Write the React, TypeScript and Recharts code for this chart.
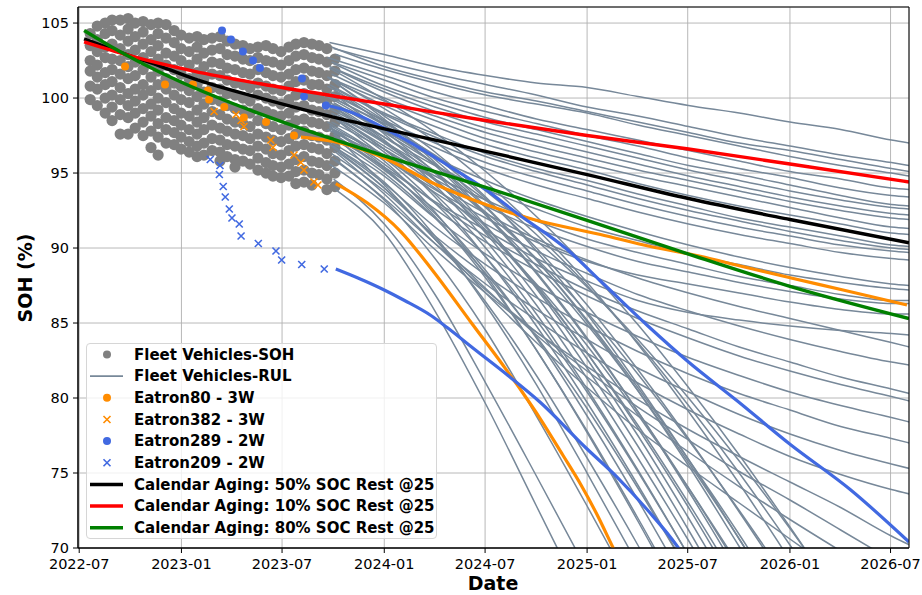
import React from "react";
import {
  ComposedChart,
  Line,
  Scatter,
  XAxis,
  YAxis,
  CartesianGrid,
  Legend,
  ReferenceArea,
} from "recharts";

// SOH of the fleet vs date, with per-vehicle RUL projections and three
// calendar-aging reference curves. x is a decimal year, y is SOH in %.

const X_MIN = 2022.49;
const X_MAX = 2026.587;
const Y_MIN = 70;
const Y_MAX = 106.07;

const X_TICKS = [2022.496, 2023.0, 2023.496, 2024.0, 2024.497, 2025.0, 2025.496, 2026.0, 2026.496];
const X_TICK_LABELS = ["2022-07", "2023-01", "2023-07", "2024-01", "2024-07", "2025-01", "2025-07", "2026-01", "2026-07"];
const Y_TICKS = [70, 75, 80, 85, 90, 95, 100, 105];

// Fleet SOH scatter, read column by column
const FLEET_SOH_X = [
  2022.55, 2022.585, 2022.624, 2022.658, 2022.698, 2022.737, 2022.772, 2022.811, 2022.85, 2022.885,
  2022.924, 2022.964, 2022.998, 2023.038, 2023.077, 2023.111, 2023.151, 2023.19, 2023.225, 2023.264,
  2023.303, 2023.338, 2023.377, 2023.417, 2023.451, 2023.491, 2023.53, 2023.564, 2023.604, 2023.643,
  2023.678, 2023.717, 2023.757,
];
const FLEET_SOH_Y = [
  [104.3, 103.5, 102.5, 101.8, 100.8, 99.9],
  [104.8, 103.9, 103.1, 102.2, 101.4, 100.6, 99.5],
  [105.0, 104.3, 103.4, 102.7, 101.7, 100.9, 100.0, 99.0],
  [105.2, 104.5, 103.6, 102.6, 101.9, 101.1, 100.2, 99.4, 98.5],
  [105.2, 104.2, 103.3, 102.5, 101.6, 100.7, 99.9, 98.9, 97.6],
  [105.3, 104.6, 103.8, 102.9, 102.1, 101.3, 100.3, 99.5, 98.7, 97.6],
  [105.0, 104.1, 103.2, 102.4, 101.5, 100.6, 99.8, 99.0, 98.0],
  [105.1, 104.4, 103.6, 102.7, 101.9, 100.9, 100.2, 99.3, 98.4, 97.5],
  [104.9, 103.9, 103.1, 102.3, 101.4, 100.5, 99.6, 98.8, 97.8, 96.7],
  [105.0, 104.3, 103.5, 102.6, 101.8, 100.9, 100.0, 99.2, 98.3, 97.4, 96.2],
  [104.9, 104.0, 103.0, 102.2, 101.3, 100.6, 99.7, 98.7, 97.9, 97.0],
  [104.5, 103.7, 102.8, 101.9, 101.0, 100.2, 99.3, 98.5, 97.7, 96.9],
  [104.2, 103.3, 102.5, 101.6, 100.8, 99.9, 99.0, 98.2, 97.4, 96.6],
  [104.0, 103.1, 102.2, 101.3, 100.5, 99.7, 98.8, 97.9, 97.1, 96.4],
  [104.1, 103.4, 102.6, 101.7, 100.9, 100.1, 99.2, 98.4, 97.6, 96.8, 96.1],
  [103.9, 103.0, 102.1, 101.3, 100.4, 99.6, 98.7, 97.9, 97.0, 96.2],
  [104.0, 103.2, 102.4, 101.6, 100.7, 99.9, 99.1, 98.2, 97.3, 96.5],
  [104.1, 103.3, 102.3, 101.5, 100.6, 99.8, 98.9, 98.0, 97.2, 96.4, 95.8],
  [103.8, 102.9, 102.0, 101.2, 100.3, 99.5, 98.6, 97.8, 96.9, 96.1],
  [103.6, 102.8, 101.9, 101.0, 100.2, 99.3, 98.4, 97.6, 96.8, 95.9, 95.4],
  [103.5, 102.6, 101.7, 100.9, 100.0, 99.2, 98.3, 97.5, 96.6, 95.8],
  [103.3, 102.5, 101.6, 100.7, 99.8, 99.0, 98.1, 97.3, 96.5, 95.6],
  [103.4, 102.7, 101.9, 101.0, 100.2, 99.3, 98.5, 97.6, 96.8, 96.0, 95.2],
  [103.5, 102.5, 101.7, 100.8, 100.0, 99.1, 98.3, 97.4, 96.6, 95.7, 95.0],
  [103.3, 102.4, 101.5, 100.6, 99.8, 98.9, 98.1, 97.2, 96.3, 95.5, 94.8],
  [103.1, 102.2, 101.4, 100.5, 99.6, 98.8, 97.9, 97.1, 96.2, 95.4, 94.7],
  [103.4, 102.5, 101.6, 100.8, 99.9, 99.0, 98.2, 97.3, 96.5, 95.6, 94.8],
  [103.6, 102.8, 101.9, 101.1, 100.2, 99.4, 98.5, 97.6, 96.8, 95.9, 95.1, 94.3],
  [103.7, 102.9, 102.0, 101.2, 100.3, 99.5, 98.6, 97.8, 96.9, 96.1, 95.2, 94.4],
  [103.6, 102.7, 101.8, 100.9, 100.1, 99.2, 98.4, 97.5, 96.7, 95.8, 95.0, 94.2],
  [103.5, 102.6, 101.7, 100.9, 100.0, 99.1, 98.3, 97.4, 96.6, 95.7, 94.9],
  [103.3, 102.4, 101.5, 100.6, 99.8, 98.9, 98.1, 97.2, 96.3, 95.5, 94.6, 93.9],
  [102.6, 101.8, 100.9, 100.1, 99.2, 98.4, 97.5, 96.7, 95.8, 95.0, 94.1],
];

// Fleet RUL projections: start point, then SOH at the common grid dates
const RUL_GRID_X = [2024.0, 2024.25, 2024.5, 2024.75, 2025.0, 2025.25, 2025.5, 2025.75, 2026.0, 2026.25, 2026.5, 2026.59];
const RUL_START_X = [
  2023.73, 2023.75, 2023.74, 2023.76, 2023.72, 2023.74, 2023.75, 2023.73, 2023.76, 2023.74, 2023.72,
  2023.75, 2023.73, 2023.76, 2023.74, 2023.72, 2023.75, 2023.73, 2023.76, 2023.74, 2023.72, 2023.75,
  2023.74, 2023.76, 2023.73, 2023.75, 2023.72, 2023.75, 2023.74, 2023.76, 2023.73, 2023.75, 2023.72, 2023.76,
  2023.76, 2023.75, 2023.74, 2023.72, 2023.77, 2023.73, 2023.75, 2023.71, 2023.76, 2023.74, 2023.72,
  2023.77, 2023.75, 2023.73, 2023.76, 2023.71, 2023.74, 2023.77, 2023.72, 2023.75, 2023.73, 2023.76,
  2023.74, 2023.72, 2023.76, 2023.75, 2023.73, 2023.77, 2023.74, 2023.72,
];
const RUL_START_Y = [
  103.7, 103.3, 103.4, 102.9, 102.7, 102.4, 102.3, 102.1, 101.9, 101.6, 101.4,
  101.2, 100.9, 100.6, 100.3, 100.2, 99.7, 99.3, 98.8, 98.4, 97.9, 97.4,
  99.0, 98.6, 98.1, 97.6, 97.2, 96.8, 96.3, 95.9, 95.6, 96.5, 97.0, 97.5,
  93.9, 94.6, 96.0, 97.0, 96.4, 98.2, 97.6, 99.0, 98.6, 99.5, 100.1,
  99.2, 100.6, 98.0, 101.0, 99.8, 100.4, 98.9, 101.4, 100.0, 102.0, 99.6,
  99.0, 98.4, 100.2, 97.3, 101.3, 99.4, 97.9, 100.8,
];
const RUL_Y = [
  // slow
  [102.9, 102.1, 101.5, 101.0, 100.7, 100.1, 99.5, 99.0, 98.4, 97.9, 97.2, 97.0],
  [102.4, 101.6, 100.9, 100.2, 99.4, 98.8, 98.1, 97.4, 96.8, 96.2, 95.7, 95.5],
  [102.1, 101.2, 100.4, 99.8, 99.1, 98.4, 97.7, 97.0, 96.5, 95.9, 95.3, 95.1],
  [101.9, 101.0, 100.2, 99.6, 99.0, 98.2, 97.5, 96.8, 96.1, 95.5, 95.0, 94.8],
  [101.5, 100.4, 99.5, 98.6, 97.9, 97.2, 96.5, 95.8, 95.1, 94.6, 94.0, 93.9],
  [101.2, 100.0, 99.1, 98.3, 97.5, 96.8, 96.0, 95.3, 94.7, 94.0, 93.5, 93.4],
  [100.8, 99.7, 98.7, 97.9, 97.1, 96.3, 95.5, 94.9, 94.2, 93.5, 92.9, 92.8],
  [100.6, 99.4, 98.4, 97.6, 96.8, 96.0, 95.2, 94.5, 93.8, 93.2, 92.7, 92.6],
  [100.4, 99.1, 98.0, 97.2, 96.4, 95.6, 94.8, 94.1, 93.4, 92.8, 92.3, 92.2],
  [100.0, 98.8, 97.7, 96.8, 96.0, 95.2, 94.5, 93.8, 93.1, 92.5, 92.0, 91.9],
  [99.8, 98.5, 97.3, 96.4, 95.6, 94.8, 94.1, 93.4, 92.7, 92.0, 91.4, 91.3],
  [99.5, 98.1, 96.9, 96.0, 95.2, 94.3, 93.5, 92.8, 92.2, 91.6, 91.0, 90.9],
  [99.0, 97.6, 96.3, 95.3, 94.5, 93.6, 92.8, 92.0, 91.4, 90.8, 90.2, 90.1],
  [98.9, 97.4, 96.1, 95.1, 94.2, 93.3, 92.5, 91.8, 91.1, 90.5, 90.0, 89.9],
  [98.5, 97.0, 95.7, 94.7, 93.8, 92.9, 92.1, 91.4, 90.8, 90.2, 89.8, 89.7],
  [98.3, 96.7, 95.3, 94.2, 93.3, 92.4, 91.6, 90.9, 90.3, 89.7, 89.3, 89.2],
  [97.8, 96.0, 94.5, 93.2, 92.1, 91.1, 90.2, 89.4, 88.7, 88.1, 87.6, 87.5],
  [97.4, 95.5, 93.9, 92.6, 91.4, 90.5, 89.6, 88.9, 88.2, 87.7, 87.3, 87.2],
  [96.8, 94.8, 93.2, 91.8, 90.6, 89.7, 88.9, 88.1, 87.5, 86.9, 86.5, 86.5],
  [96.6, 94.6, 92.8, 91.3, 90.1, 89.1, 88.4, 87.7, 87.1, 86.6, 86.3, 86.3],
  [96.0, 93.9, 92.0, 90.4, 89.1, 88.2, 87.6, 87.0, 86.4, 85.9, 85.6, 85.6],
  [95.4, 93.1, 91.2, 89.3, 87.8, 86.5, 85.7, 85.2, 84.8, 84.5, 84.3, 84.2],
  // middle
  [96.6, 94.3, 92.3, 90.6, 89.2, 88.0, 87.0, 86.1, 85.3, 84.5, 83.7, 83.4],
  [96.1, 93.7, 91.6, 89.8, 88.3, 86.9, 85.8, 84.8, 83.9, 83.1, 82.4, 82.2],
  [95.6, 93.0, 90.8, 88.9, 87.2, 85.8, 84.6, 83.4, 82.4, 81.4, 80.6, 80.3],
  [95.2, 92.6, 90.4, 88.5, 86.8, 85.3, 84.0, 82.8, 81.8, 80.9, 80.1, 79.8],
  [94.8, 92.0, 89.6, 87.5, 85.7, 84.1, 82.7, 81.5, 80.4, 79.5, 78.7, 78.4],
  [94.3, 91.4, 88.9, 86.7, 84.8, 83.1, 81.6, 80.3, 79.2, 78.1, 77.3, 77.0],
  [93.8, 90.8, 88.2, 85.9, 83.9, 82.0, 80.4, 78.9, 77.6, 76.5, 75.6, 75.3],
  [93.3, 90.3, 87.6, 85.2, 83.0, 81.0, 79.2, 77.6, 76.1, 74.9, 73.9, 73.6],
  [93.0, 89.9, 87.0, 84.4, 82.1, 79.9, 77.9, 76.1, 74.4, 72.7, 70.8, 70.2],
  [93.6, 90.3, 87.2, 84.4, 81.8, 79.4, 77.2, 75.1, 73.2, 71.2, 69.2],
  [94.0, 90.6, 87.3, 84.2, 81.4, 78.8, 76.4, 74.1, 71.9, 69.8],
  [94.2, 90.6, 87.0, 83.7, 80.7, 77.9, 75.4, 73.0, 70.6, 68.2],
  // fast
  [91.0, 85.8, 79.6, 72.8, 66.0],
  [91.6, 86.9, 81.0, 74.8, 68.5],
  [93.2, 89.3, 84.5, 78.8, 72.8, 66.6],
  [94.4, 90.8, 86.2, 80.9, 75.0, 68.9],
  [94.0, 90.6, 86.4, 81.5, 76.0, 70.2, 64.0],
  [95.8, 92.4, 88.2, 83.2, 77.8, 72.0, 65.9],
  [95.3, 92.3, 88.5, 84.0, 78.8, 73.2, 67.3],
  [96.6, 93.4, 89.4, 84.8, 79.7, 74.2, 68.4],
  [96.4, 93.6, 90.0, 85.6, 80.6, 75.2, 69.5],
  [97.2, 94.2, 90.5, 86.2, 81.3, 76.0, 70.5, 64.8],
  [97.8, 95.0, 91.5, 87.3, 82.6, 77.5, 72.0, 66.3],
  [97.1, 94.6, 91.4, 87.5, 83.0, 78.0, 72.7, 67.0],
  [98.2, 95.5, 92.2, 88.3, 83.9, 79.1, 74.0, 68.6],
  [96.2, 94.0, 91.1, 87.6, 83.5, 78.9, 74.0, 68.8],
  [98.8, 96.4, 93.4, 89.8, 85.6, 80.9, 75.9, 70.6, 65.0],
  [97.9, 95.6, 92.7, 89.2, 85.2, 80.7, 75.9, 70.9, 65.6],
  [98.4, 96.1, 93.3, 90.0, 86.2, 81.9, 77.3, 72.4, 67.3],
  [97.1, 95.0, 92.4, 89.3, 85.7, 81.6, 77.2, 72.5, 67.6],
  [99.3, 97.1, 94.4, 91.3, 87.7, 83.6, 79.1, 74.3, 69.2],
  [98.2, 96.2, 93.8, 90.9, 87.5, 83.7, 79.5, 75.0, 70.2, 65.1],
  [99.9, 97.7, 95.1, 92.1, 88.7, 84.9, 80.7, 76.2, 71.4, 66.4],
  [97.7, 95.6, 93.2, 90.5, 87.4, 83.9, 80.0, 75.8, 71.3, 66.6],
  [97.0, 94.5, 91.2, 87.4, 83.0, 78.2, 73.0, 67.5],
  [96.0, 93.0, 89.4, 85.2, 80.4, 75.1, 69.5],
  [97.6, 94.6, 91.0, 86.8, 82.0, 76.8, 71.2, 65.3],
  [95.0, 92.0, 88.3, 84.1, 79.3, 74.0, 68.4],
  [98.6, 95.7, 92.3, 88.4, 84.0, 79.1, 73.8, 68.2],
  [97.4, 95.1, 92.2, 88.8, 84.9, 80.5, 75.7, 70.6, 65.3],
  [95.4, 92.1, 88.0, 83.2, 77.7, 71.8, 65.6],
  [98.5, 95.9, 92.8, 89.2, 85.1, 80.5, 75.5, 70.1, 64.6],
];

// Named vehicles
const EATRON80_SOH = [
  [2022.722, 102.1], [2022.919, 100.9], [2023.057, 100.9], [2023.131, 100.5], [2023.136, 99.9],
  [2023.211, 99.4], [2023.308, 98.7], [2023.417, 98.4], [2023.555, 97.5],
];
const EATRON382_SOH = [
  [2023.161, 99.1], [2023.269, 98.9], [2023.294, 98.5], [2023.308, 98.1], [2023.441, 97.2],
  [2023.451, 96.7], [2023.555, 96.2], [2023.589, 95.7], [2023.604, 95.2], [2023.653, 94.4], [2023.673, 94.2],
];
const EATRON289_SOH = [
  [2023.2, 104.5], [2023.244, 103.9], [2023.303, 103.1], [2023.353, 102.5], [2023.387, 102.0],
  [2023.594, 101.3], [2023.604, 100.1], [2023.712, 99.5],
];
const EATRON209_SOH = [
  [2023.142, 95.9], [2023.19, 95.5], [2023.187, 94.9], [2023.206, 94.1], [2023.216, 93.4],
  [2023.236, 92.6], [2023.249, 92.0], [2023.285, 91.6], [2023.294, 90.8], [2023.379, 90.3],
  [2023.466, 89.8], [2023.494, 89.2], [2023.593, 88.9], [2023.704, 88.6],
];
const EATRON80_RUL = [
  [2023.589, 97.4], [2023.75, 97.1], [2024.0, 96.0], [2024.244, 94.3], [2024.5, 92.9], [2024.736, 91.9],
  [2025.066, 90.9], [2025.312, 90.1], [2025.558, 89.45], [2025.755, 88.8], [2026.006, 88.0],
  [2026.262, 87.2], [2026.577, 86.2],
];
const EATRON382_RUL = [
  [2023.761, 94.3], [2023.917, 93.0], [2024.081, 91.1], [2024.244, 88.4], [2024.43, 85.0],
  [2024.59, 82.1], [2024.68, 80.4], [2024.77, 78.6], [2024.88, 76.2], [2024.97, 74.2],
  [2025.05, 72.2], [2025.125, 70.1], [2025.15, 69.4],
];
const EATRON289_RUL = [
  [2023.712, 99.5], [2023.752, 99.4], [2024.081, 97.4], [2024.327, 95.4], [2024.5, 93.9],
  [2024.656, 92.3], [2024.902, 89.9], [2025.066, 87.8], [2025.3, 84.8], [2025.5, 82.4],
  [2025.741, 79.8], [2026.002, 76.9], [2026.297, 73.9], [2026.587, 70.4],
];
const EATRON209_RUL = [
  [2023.761, 88.6], [2023.87, 88.0], [2024.0, 87.2], [2024.1, 86.5], [2024.23, 85.5],
  [2024.31, 84.7], [2024.44, 83.3], [2024.61, 81.5], [2024.77, 79.7], [2025.0, 76.6],
  [2025.15, 74.7], [2025.3, 72.5], [2025.445, 70.1], [2025.47, 69.6],
];

// Calendar aging curves
const CAL_50 = [
  [2022.52, 103.95], [2022.74, 102.85], [2022.9, 102.1], [2023.06, 101.3], [2023.39, 100.0],
  [2023.79, 98.6], [2024.0, 97.95], [2024.5, 96.45], [2025.0, 94.9], [2025.5, 93.3],
  [2026.0, 91.9], [2026.587, 90.35],
];
const CAL_10 = [
  [2022.52, 103.75], [2022.74, 102.85], [2023.06, 101.8], [2023.39, 100.95], [2023.79, 100.05],
  [2024.0, 99.6], [2024.5, 98.5], [2025.0, 97.5], [2025.5, 96.6], [2026.0, 95.6], [2026.587, 94.4],
];
const CAL_80 = [
  [2022.52, 104.5], [2022.65, 103.45], [2022.8, 102.35], [2023.0, 101.05], [2023.25, 99.65],
  [2023.5, 98.4], [2023.75, 97.25], [2024.0, 96.15], [2024.5, 94.05], [2025.0, 91.85],
  [2025.5, 89.6], [2026.0, 87.45], [2026.587, 85.3],
];

const GRAY_DOT = "#808080";
const RUL_GRAY = "#778899";
const ORANGE = "#ff8c00";
const BLUE = "#4169e1";
const FONT = "DejaVu Sans";

const pairs = (rows: number[][]) => rows.map(([x, y]) => ({ x, y }));

const fleetSoh = FLEET_SOH_X.flatMap((x, i) => FLEET_SOH_Y[i].map((y) => ({ x, y })));
const fleetRul = RUL_Y.map((ys, i) => [
  { x: RUL_START_X[i], y: RUL_START_Y[i] },
  ...ys.map((y, j) => ({ x: RUL_GRID_X[j], y })),
]);

const dotShape = (color: string, r: number) => (p: any) => (
  <circle cx={p.cx} cy={p.cy} r={r} fill={color} />
);
const crossShape = (color: string) => (p: any) => (
  <path
    d={`M${p.cx - 3.5},${p.cy - 3.5}L${p.cx + 3.5},${p.cy + 3.5}M${p.cx - 3.5},${p.cy + 3.5}L${p.cx + 3.5},${p.cy - 3.5}`}
    stroke={color}
    strokeWidth={1.6}
    fill="none"
  />
);

const LEGEND_ITEMS = [
  { label: "Fleet Vehicles-SOH", kind: "dot", color: GRAY_DOT },
  { label: "Fleet Vehicles-RUL", kind: "thin", color: RUL_GRAY },
  { label: "Eatron80 - 3W", kind: "dot", color: ORANGE },
  { label: "Eatron382 - 3W", kind: "cross", color: ORANGE },
  { label: "Eatron289 - 2W", kind: "dot", color: BLUE },
  { label: "Eatron209 - 2W", kind: "cross", color: BLUE },
  { label: "Calendar Aging: 50% SOC Rest @25", kind: "thick", color: "#000000" },
  { label: "Calendar Aging: 10% SOC Rest @25", kind: "thick", color: "#ff0000" },
  { label: "Calendar Aging: 80% SOC Rest @25", kind: "thick", color: "#008000" },
];

function LegendBox() {
  return (
    <div
      style={{
        width: 351,
        height: 196,
        boxSizing: "border-box",
        border: "1px solid #d6d6d6",
        borderRadius: 4,
        background: "rgba(255,255,255,0.8)",
      }}
    >
      <svg width={349} height={194} style={{ display: "block" }}>
        {LEGEND_ITEMS.map((it, i) => {
          const cy = 10.5 + i * 21.65;
          let handle = null;
          if (it.kind === "dot") handle = <circle cx={20} cy={cy} r={4} fill={it.color} />;
          else if (it.kind === "cross")
            handle = (
              <path
                d={`M16.5,${cy - 3.5}L23.5,${cy + 3.5}M16.5,${cy + 3.5}L23.5,${cy - 3.5}`}
                stroke={it.color}
                strokeWidth={1.6}
              />
            );
          else
            handle = (
              <line x1={3} x2={36} y1={cy} y2={cy} stroke={it.color} strokeWidth={it.kind === "thick" ? 3.5 : 1.6} />
            );
          return (
            <g key={it.label}>
              {handle}
              <text x={47} y={cy + 5.3} fontFamily={FONT} fontWeight="bold" fontSize={15} fill="#000">
                {it.label}
              </text>
            </g>
          );
        })}
      </svg>
    </div>
  );
}

const YTitle = () => (
  <text
    x={25}
    y={278}
    transform="rotate(-90 25 278)"
    textAnchor="middle"
    dominantBaseline="central"
    fontFamily={FONT}
    fontWeight="bold"
    fontSize={19}
    fill="#000"
  >
    SOH (%)
  </text>
);

const XTitle = () => (
  <text x={493} y={590} textAnchor="middle" fontFamily={FONT} fontWeight="bold" fontSize={19} fill="#000">
    Date
  </text>
);

const tickStyle = { fill: "#000", fontSize: 14.5, fontFamily: FONT };

export default function App() {
  return (
    <div style={{ position: "absolute", left: 0, top: 0, background: "#fff" }}>
      <ComposedChart
        width={922}
        height={595}
        margin={{ top: 7, right: 13, bottom: 0, left: 0 }}
        style={{ fontFamily: FONT }}
      >
        <CartesianGrid stroke="#b0b0b0" strokeWidth={0.9} />
        <XAxis
          type="number"
          dataKey="x"
          domain={[X_MIN, X_MAX]}
          ticks={X_TICKS}
          tickFormatter={(v: number) => X_TICK_LABELS[X_TICKS.indexOf(v)]}
          allowDataOverflow
          height={47}
          tick={tickStyle}
          tickSize={5}
          tickMargin={6}
          stroke="#000"
          tickLine={{ stroke: "#000" }}
          interval={0}
          label={<XTitle />}
        />
        <YAxis
          type="number"
          domain={[Y_MIN, Y_MAX]}
          ticks={Y_TICKS}
          allowDataOverflow
          width={78}
          tick={tickStyle}
          tickSize={5}
          tickMargin={4}
          stroke="#000"
          tickLine={{ stroke: "#000" }}
          interval={0}
          label={<YTitle />}
        />
        <Scatter data={fleetSoh} dataKey="y" shape={dotShape(GRAY_DOT, 5.6)} isAnimationActive={false} zIndex={350} />
        {fleetRul.map((pts, i) => (
          <Line
            key={"rul" + i}
            data={pts}
            dataKey="y"
            type="monotone"
            stroke={RUL_GRAY}
            strokeWidth={1.5}
            dot={false}
            activeDot={false}
            isAnimationActive={false}
            zIndex={400}
          />
        ))}
        <Scatter data={pairs(EATRON80_SOH)} dataKey="y" shape={dotShape(ORANGE, 4)} isAnimationActive={false} zIndex={600} />
        <Scatter data={pairs(EATRON382_SOH)} dataKey="y" shape={crossShape(ORANGE)} isAnimationActive={false} zIndex={600} />
        <Scatter data={pairs(EATRON289_SOH)} dataKey="y" shape={dotShape(BLUE, 4)} isAnimationActive={false} zIndex={600} />
        <Scatter data={pairs(EATRON209_SOH)} dataKey="y" shape={crossShape(BLUE)} isAnimationActive={false} zIndex={600} />
        {[EATRON80_RUL, EATRON382_RUL].map((d, i) => (
          <Line key={"o" + i} data={pairs(d)} dataKey="y" type="monotone" stroke={ORANGE} strokeWidth={3.2} dot={false} activeDot={false} isAnimationActive={false} zIndex={650} />
        ))}
        {[EATRON289_RUL, EATRON209_RUL].map((d, i) => (
          <Line key={"b" + i} data={pairs(d)} dataKey="y" type="monotone" stroke={BLUE} strokeWidth={3.2} dot={false} activeDot={false} isAnimationActive={false} zIndex={650} />
        ))}
        <Line data={pairs(CAL_50)} dataKey="y" type="monotone" stroke="#000000" strokeWidth={3.4} dot={false} activeDot={false} isAnimationActive={false} zIndex={700} />
        <Line data={pairs(CAL_10)} dataKey="y" type="monotone" stroke="#ff0000" strokeWidth={3.4} dot={false} activeDot={false} isAnimationActive={false} zIndex={700} />
        <Line data={pairs(CAL_80)} dataKey="y" type="monotone" stroke="#008000" strokeWidth={3.4} dot={false} activeDot={false} isAnimationActive={false} zIndex={700} />
        <ReferenceArea x1={X_MIN} x2={X_MAX} y1={Y_MIN} y2={Y_MAX} fill="none" stroke="#000" strokeWidth={1} ifOverflow="visible" zIndex={900} />
        <Legend
          layout="vertical"
          align="center"
          verticalAlign="middle"
          content={() => <LegendBox />}
          wrapperStyle={{ left: 86, top: 343, width: 351, height: 196 }}
        />
      </ComposedChart>
    </div>
  );
}
